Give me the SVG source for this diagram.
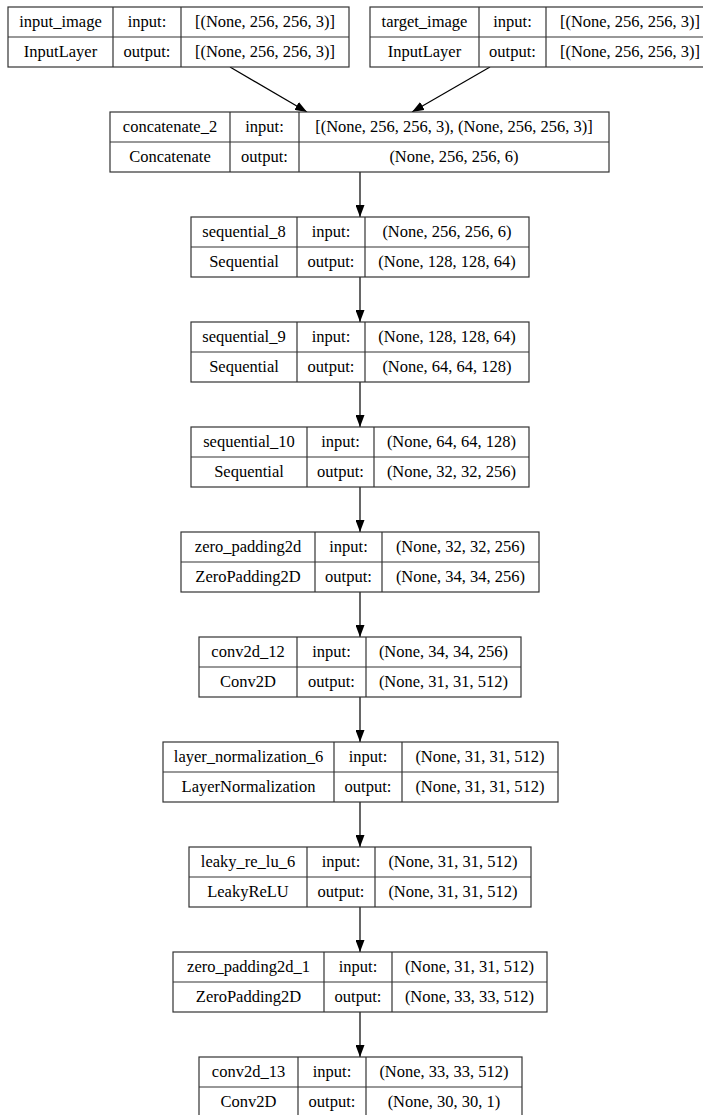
<svg xmlns="http://www.w3.org/2000/svg" width="703" height="1115" viewBox="0 0 703 1115">
  <defs>
    <style>
      .box { fill: #ffffff; stroke: #333333; stroke-width: 1.2; }
      .sep { stroke: #333333; stroke-width: 1.2; }
      .lbl { font-size: 16.5px; fill: #000000; text-anchor: middle; }
      .edge { stroke: #000000; stroke-width: 1.2; fill: none; marker-end: url(#head); }
    </style>
    <marker id="head" viewBox="0 0 12 9" refX="12" refY="4.5" markerUnits="userSpaceOnUse" markerWidth="12" markerHeight="9" orient="auto">
      <path d="M0,0 L12,4.5 L0,9 z" fill="#000000"/>
    </marker>
  </defs>
  <rect width="703" height="1115" fill="#ffffff"/>

  <!-- connectors -->
  <g id="edges">
    <line class="edge" x1="230" y1="67" x2="307" y2="112"/>
    <line class="edge" x1="490" y1="67" x2="412" y2="112"/>
    <line class="edge" x1="360" y1="172" x2="360" y2="217"/>
    <line class="edge" x1="360" y1="277" x2="360" y2="322"/>
    <line class="edge" x1="360" y1="382" x2="360" y2="427"/>
    <line class="edge" x1="360" y1="487" x2="360" y2="532"/>
    <line class="edge" x1="360" y1="592" x2="360" y2="637"/>
    <line class="edge" x1="360" y1="697" x2="360" y2="742"/>
    <line class="edge" x1="360" y1="802" x2="360" y2="847"/>
    <line class="edge" x1="360" y1="907" x2="360" y2="952"/>
    <line class="edge" x1="360" y1="1012" x2="360" y2="1057"/>
  </g>

  <!-- layers -->
  <g id="layers" font-family="Liberation Serif, Times New Roman, DejaVu Serif, serif">
  <g id="input_image">
    <rect class="box" x="8" y="7" width="341" height="60"/>
    <line class="sep" x1="8" y1="37" x2="349" y2="37"/>
    <line class="sep" x1="113" y1="7" x2="113" y2="67"/>
    <line class="sep" x1="181" y1="7" x2="181" y2="67"/>
    <text class="lbl" x="60.5" y="27">input_image</text>
    <text class="lbl" x="147" y="27">input:</text>
    <text class="lbl" x="265" y="27">[(None, 256, 256, 3)]</text>
    <text class="lbl" x="60.5" y="57">InputLayer</text>
    <text class="lbl" x="147" y="57">output:</text>
    <text class="lbl" x="265" y="57">[(None, 256, 256, 3)]</text>
  </g>

  <g id="target_image">
    <rect class="box" x="370" y="7" width="344" height="60"/>
    <line class="sep" x1="370" y1="37" x2="714" y2="37"/>
    <line class="sep" x1="479" y1="7" x2="479" y2="67"/>
    <line class="sep" x1="546" y1="7" x2="546" y2="67"/>
    <text class="lbl" x="424.5" y="27">target_image</text>
    <text class="lbl" x="512.5" y="27">input:</text>
    <text class="lbl" x="630" y="27">[(None, 256, 256, 3)]</text>
    <text class="lbl" x="424.5" y="57">InputLayer</text>
    <text class="lbl" x="512.5" y="57">output:</text>
    <text class="lbl" x="630" y="57">[(None, 256, 256, 3)]</text>
  </g>

  <g id="concatenate_2">
    <rect class="box" x="110" y="112" width="499" height="60"/>
    <line class="sep" x1="110" y1="142" x2="609" y2="142"/>
    <line class="sep" x1="230" y1="112" x2="230" y2="172"/>
    <line class="sep" x1="299" y1="112" x2="299" y2="172"/>
    <text class="lbl" x="170" y="132">concatenate_2</text>
    <text class="lbl" x="264.5" y="132">input:</text>
    <text class="lbl" x="454" y="132">[(None, 256, 256, 3), (None, 256, 256, 3)]</text>
    <text class="lbl" x="170" y="162">Concatenate</text>
    <text class="lbl" x="264.5" y="162">output:</text>
    <text class="lbl" x="454" y="162">(None, 256, 256, 6)</text>
  </g>

  <g id="sequential_8">
    <rect class="box" x="191" y="217" width="338" height="60"/>
    <line class="sep" x1="191" y1="247" x2="529" y2="247"/>
    <line class="sep" x1="297" y1="217" x2="297" y2="277"/>
    <line class="sep" x1="365" y1="217" x2="365" y2="277"/>
    <text class="lbl" x="244" y="237">sequential_8</text>
    <text class="lbl" x="331" y="237">input:</text>
    <text class="lbl" x="447" y="237">(None, 256, 256, 6)</text>
    <text class="lbl" x="244" y="267">Sequential</text>
    <text class="lbl" x="331" y="267">output:</text>
    <text class="lbl" x="447" y="267">(None, 128, 128, 64)</text>
  </g>

  <g id="sequential_9">
    <rect class="box" x="191" y="322" width="338" height="60"/>
    <line class="sep" x1="191" y1="352" x2="529" y2="352"/>
    <line class="sep" x1="297" y1="322" x2="297" y2="382"/>
    <line class="sep" x1="365" y1="322" x2="365" y2="382"/>
    <text class="lbl" x="244" y="342">sequential_9</text>
    <text class="lbl" x="331" y="342">input:</text>
    <text class="lbl" x="447" y="342">(None, 128, 128, 64)</text>
    <text class="lbl" x="244" y="372">Sequential</text>
    <text class="lbl" x="331" y="372">output:</text>
    <text class="lbl" x="447" y="372">(None, 64, 64, 128)</text>
  </g>

  <g id="sequential_10">
    <rect class="box" x="191" y="427" width="338" height="60"/>
    <line class="sep" x1="191" y1="457" x2="529" y2="457"/>
    <line class="sep" x1="307" y1="427" x2="307" y2="487"/>
    <line class="sep" x1="374" y1="427" x2="374" y2="487"/>
    <text class="lbl" x="249" y="447">sequential_10</text>
    <text class="lbl" x="340.5" y="447">input:</text>
    <text class="lbl" x="451.5" y="447">(None, 64, 64, 128)</text>
    <text class="lbl" x="249" y="477">Sequential</text>
    <text class="lbl" x="340.5" y="477">output:</text>
    <text class="lbl" x="451.5" y="477">(None, 32, 32, 256)</text>
  </g>

  <g id="zero_padding2d">
    <rect class="box" x="181" y="532" width="358" height="60"/>
    <line class="sep" x1="181" y1="562" x2="539" y2="562"/>
    <line class="sep" x1="315" y1="532" x2="315" y2="592"/>
    <line class="sep" x1="382" y1="532" x2="382" y2="592"/>
    <text class="lbl" x="248" y="552">zero_padding2d</text>
    <text class="lbl" x="348.5" y="552">input:</text>
    <text class="lbl" x="460.5" y="552">(None, 32, 32, 256)</text>
    <text class="lbl" x="248" y="582">ZeroPadding2D</text>
    <text class="lbl" x="348.5" y="582">output:</text>
    <text class="lbl" x="460.5" y="582">(None, 34, 34, 256)</text>
  </g>

  <g id="conv2d_12">
    <rect class="box" x="199" y="637" width="322" height="60"/>
    <line class="sep" x1="199" y1="667" x2="521" y2="667"/>
    <line class="sep" x1="297" y1="637" x2="297" y2="697"/>
    <line class="sep" x1="366" y1="637" x2="366" y2="697"/>
    <text class="lbl" x="248" y="657">conv2d_12</text>
    <text class="lbl" x="331.5" y="657">input:</text>
    <text class="lbl" x="443.5" y="657">(None, 34, 34, 256)</text>
    <text class="lbl" x="248" y="687">Conv2D</text>
    <text class="lbl" x="331.5" y="687">output:</text>
    <text class="lbl" x="443.5" y="687">(None, 31, 31, 512)</text>
  </g>

  <g id="layer_normalization_6">
    <rect class="box" x="163" y="742" width="395" height="60"/>
    <line class="sep" x1="163" y1="772" x2="558" y2="772"/>
    <line class="sep" x1="334" y1="742" x2="334" y2="802"/>
    <line class="sep" x1="402" y1="742" x2="402" y2="802"/>
    <text class="lbl" x="248.5" y="762">layer_normalization_6</text>
    <text class="lbl" x="368" y="762">input:</text>
    <text class="lbl" x="480" y="762">(None, 31, 31, 512)</text>
    <text class="lbl" x="248.5" y="792">LayerNormalization</text>
    <text class="lbl" x="368" y="792">output:</text>
    <text class="lbl" x="480" y="792">(None, 31, 31, 512)</text>
  </g>

  <g id="leaky_re_lu_6">
    <rect class="box" x="189" y="847" width="342" height="60"/>
    <line class="sep" x1="189" y1="877" x2="531" y2="877"/>
    <line class="sep" x1="307" y1="847" x2="307" y2="907"/>
    <line class="sep" x1="375" y1="847" x2="375" y2="907"/>
    <text class="lbl" x="248" y="867">leaky_re_lu_6</text>
    <text class="lbl" x="341" y="867">input:</text>
    <text class="lbl" x="453" y="867">(None, 31, 31, 512)</text>
    <text class="lbl" x="248" y="897">LeakyReLU</text>
    <text class="lbl" x="341" y="897">output:</text>
    <text class="lbl" x="453" y="897">(None, 31, 31, 512)</text>
  </g>

  <g id="zero_padding2d_1">
    <rect class="box" x="173" y="952" width="374" height="60"/>
    <line class="sep" x1="173" y1="982" x2="547" y2="982"/>
    <line class="sep" x1="324" y1="952" x2="324" y2="1012"/>
    <line class="sep" x1="392" y1="952" x2="392" y2="1012"/>
    <text class="lbl" x="248.5" y="972">zero_padding2d_1</text>
    <text class="lbl" x="358" y="972">input:</text>
    <text class="lbl" x="469.5" y="972">(None, 31, 31, 512)</text>
    <text class="lbl" x="248.5" y="1002">ZeroPadding2D</text>
    <text class="lbl" x="358" y="1002">output:</text>
    <text class="lbl" x="469.5" y="1002">(None, 33, 33, 512)</text>
  </g>

  <g id="conv2d_13">
    <rect class="box" x="199" y="1057" width="323" height="60"/>
    <line class="sep" x1="199" y1="1087" x2="522" y2="1087"/>
    <line class="sep" x1="298" y1="1057" x2="298" y2="1117"/>
    <line class="sep" x1="366" y1="1057" x2="366" y2="1117"/>
    <text class="lbl" x="248.5" y="1077">conv2d_13</text>
    <text class="lbl" x="332" y="1077">input:</text>
    <text class="lbl" x="444" y="1077">(None, 33, 33, 512)</text>
    <text class="lbl" x="248.5" y="1107">Conv2D</text>
    <text class="lbl" x="332" y="1107">output:</text>
    <text class="lbl" x="444" y="1107">(None, 30, 30, 1)</text>
  </g>
  </g>
</svg>
